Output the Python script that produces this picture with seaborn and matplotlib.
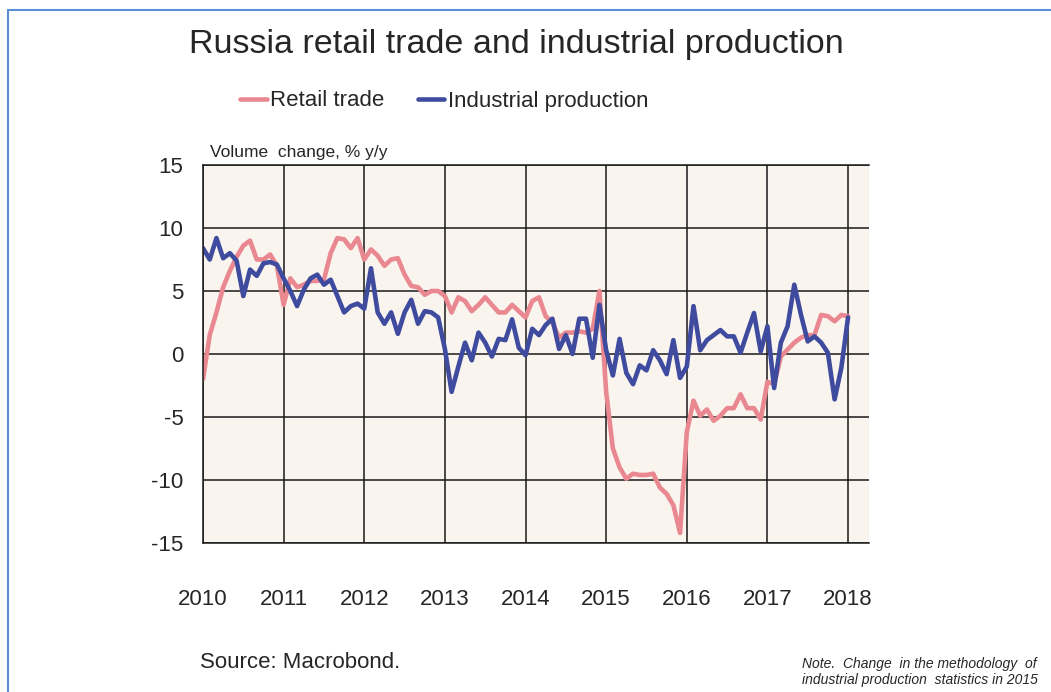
import numpy as np
import pandas as pd
import matplotlib
matplotlib.use("Agg")
import matplotlib.pyplot as plt
import seaborn as sns

# monthly values, Jan 2010 .. Jan 2018 (% y/y)
retail_trade = [
    -2.0, 1.5, 3.3, 5.3, 6.6, 7.7, 8.6, 9.0, 7.5, 7.5, 7.9, 7.0,
    3.9, 6.0, 5.3, 5.5, 5.8, 5.8, 5.9, 8.0, 9.2, 9.1, 8.4, 9.2,
    7.5, 8.3, 7.8, 7.0, 7.5, 7.6, 6.3, 5.4, 5.3, 4.7, 5.0, 5.0,
    4.6, 3.3, 4.5, 4.2, 3.4, 3.9, 4.5, 3.9, 3.3, 3.3, 3.9, 3.4,
    2.9, 4.2, 4.5, 3.0, 2.5, 1.3, 1.7, 1.7, 1.8, 1.7, 2.0, 5.0,
    -3.0, -7.5, -9.0, -9.9, -9.5, -9.6, -9.6, -9.5, -10.6, -11.1, -12.0, -14.2,
    -6.2, -3.7, -4.9, -4.4, -5.3, -4.9, -4.3, -4.3, -3.2, -4.3, -4.3, -5.2,
    -2.2, -2.4, -0.2, 0.35, 0.9, 1.3, 1.5, 1.5, 3.1, 3.0, 2.6, 3.1,
    3.0,
]
industrial_production = [
    8.4, 7.5, 9.2, 7.6, 8.0, 7.4, 4.6, 6.7, 6.2, 7.2, 7.3, 7.1,
    6.0, 5.0, 3.8, 5.1, 6.0, 6.3, 5.5, 5.9, 4.6, 3.3, 3.8, 4.0,
    3.6, 6.8, 3.3, 2.4, 3.3, 1.6, 3.3, 4.3, 2.4, 3.4, 3.3, 2.9,
    0.4, -3.0, -1.0, 0.9, -0.5, 1.7, 0.9, -0.2, 1.2, 1.1, 2.75, 0.5,
    -0.1, 2.0, 1.5, 2.3, 2.8, 0.4, 1.5, 0.0, 2.8, 2.8, -0.3, 3.9,
    0.3, -1.7, 1.2, -1.5, -2.4, -0.9, -1.3, 0.3, -0.5, -1.6, 1.1, -1.9,
    -1.0, 3.8, 0.3, 1.1, 1.5, 1.9, 1.4, 1.4, 0.1, 1.7, 3.25, 0.2,
    2.2, -2.7, 0.9, 2.2, 5.5, 3.1, 1.0, 1.4, 0.9, 0.1, -3.6, -1.1,
    2.9,
]
years = list(range(2010, 2019))
y_ticks = [15, 10, 5, 0, -5, -10, -15]
series_names = ["Retail trade", "Industrial production"]
colors = {"Retail trade": "#E98890", "Industrial production": "#3F4B9E"}

t = 2010 + np.arange(len(retail_trade)) / 12.0
df = pd.concat([
    pd.DataFrame({"t": t, "value": retail_trade, "series": "Retail trade"}),
    pd.DataFrame({"t": t, "value": industrial_production, "series": "Industrial production"}),
])

sns.set_style("white")
plt.rcParams["font.family"] = ["Liberation Sans", "DejaVu Sans"]

fig = plt.figure(figsize=(10.51, 6.92), dpi=100)
ax = fig.add_axes([203 / 1051, 1 - 543 / 692, (869 - 203) / 1051, (543 - 165) / 692])
ax.set_facecolor("#F9F4EE")

sns.lineplot(data=df, x="t", y="value", hue="series", hue_order=series_names,
             palette=colors, linewidth=3.3, ax=ax, legend=False, sort=False)

ax.set_xlim(2010, 2018 + 21 / 80.8)
ax.set_ylim(-15, 15)
ax.set_xticks(years)
ax.set_xticklabels([str(y) for y in years], fontsize=16)
ax.set_yticks(y_ticks)
ax.set_yticklabels([str(v) for v in y_ticks], fontsize=16)
ax.tick_params(axis="x", length=0, pad=33)
ax.tick_params(axis="y", length=0, pad=14)
ax.grid(True, color="#1a1a1a", linewidth=1.1)
ax.set_axisbelow(True)
for side, sp in ax.spines.items():
    sp.set_color("#1a1a1a")
    sp.set_linewidth(1.1)
ax.spines["right"].set_visible(False)
ax.set_xlabel("")
ax.set_ylabel("")

fig.text(516 / 1051, 1 - 45 / 692, "Russia retail trade and industrial production",
         ha="center", va="center", fontsize=24.5)
fig.text(210 / 1051, 1 - 153 / 692, "Volume  change, % y/y",
         ha="left", va="center", fontsize=12.5)
fig.text(200 / 1051, 1 - 662 / 692, "Source: Macrobond.",
         ha="left", va="center", fontsize=16)
fig.text(802 / 1051, 1 - 672 / 692,
         "Note.  Change  in the methodology  of\nindustrial production  statistics in 2015",
         ha="left", va="center", fontsize=10, style="italic", linespacing=1.15)

handles = [plt.Line2D([], [], color=colors[n], linewidth=3.3) for n in series_names]
fig.legend(handles, series_names, loc="center", ncol=2, frameon=False,
           bbox_to_anchor=(444 / 1051, 1 - 101 / 692), fontsize=16,
           handlelength=1.2, handletextpad=0.15, columnspacing=1.5)

# blue frame along left and top edges
fig.add_artist(plt.Line2D([8 / 1051, 8 / 1051], [0, 1 - 10 / 692],
                          transform=fig.transFigure, color="#5B8ED6", linewidth=1.5))
fig.add_artist(plt.Line2D([8 / 1051, 1], [1 - 10 / 692, 1 - 10 / 692],
                          transform=fig.transFigure, color="#5B8ED6", linewidth=1.5))

fig.savefig("out.png", dpi=100)
